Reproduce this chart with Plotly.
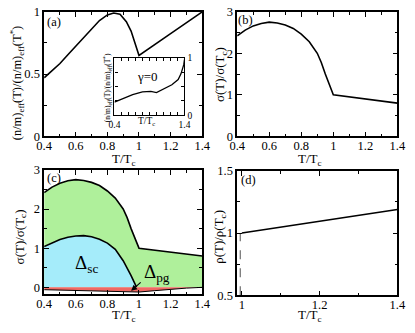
import plotly.graph_objects as go

W, H = 415, 333

# (a) superfluid weight ratio
t_a = [0.4, 0.45, 0.5, 0.55, 0.6, 0.65, 0.7, 0.75, 0.8, 0.84, 0.88, 0.92, 0.95, 0.98, 1.0, 1.2, 1.4]
ns_a = [0.47, 0.525, 0.585, 0.655, 0.725, 0.795, 0.865, 0.93, 0.975, 0.99, 0.98, 0.92, 0.845, 0.72, 0.65, 0.825, 1.0]

# (a) inset, gamma = 0
t_in = [0.4, 0.52, 0.66, 0.8, 0.92, 1.0, 1.12, 1.22, 1.31, 1.35, 1.39, 1.4]
ns_in = [0.23, 0.29, 0.36, 0.405, 0.415, 0.395, 0.47, 0.53, 0.62, 0.72, 0.88, 0.97]

# (b)/(c) total conductivity
t_s = [0.4, 0.45, 0.5, 0.55, 0.6, 0.65, 0.7, 0.75, 0.8, 0.85, 0.9, 0.925, 0.95, 0.975, 1.0, 1.4]
sig = [2.42, 2.56, 2.66, 2.72, 2.75, 2.73, 2.68, 2.6, 2.46, 2.28, 2.0, 1.78, 1.5, 1.23, 1.0, 0.8]

# (c) superconducting part
t_sc = [0.4, 0.45, 0.5, 0.55, 0.6, 0.65, 0.7, 0.75, 0.8, 0.85, 0.9, 0.95, 0.985]
sig_sc = [1.04, 1.14, 1.22, 1.28, 1.31, 1.32, 1.29, 1.23, 1.13, 0.97, 0.68, 0.3, 0.0]

# (c) pseudogap part
t_pg = [0.4, 0.5, 0.6, 0.7, 0.8, 0.9, 0.95, 1.0, 1.1, 1.2, 1.3, 1.4]
sig_pg = [-0.06, -0.07, -0.08, -0.095, -0.11, -0.125, -0.13, -0.12, -0.085, -0.05, -0.02, 0.0]

# (d) resistivity
t_r = [1.0, 1.4]
rho = [1.0, 1.19]
t_dash = [0.996, 0.996]
rho_dash = [0.5, 1.0]

FONT = "Liberation Serif, Times New Roman, serif"
LC = "black"


def px(x):
    return x / W


def py(y):
    return 1 - y / H


fig = go.Figure()

fig.add_trace(go.Scatter(x=t_a, y=ns_a, mode="lines", line=dict(color=LC, width=1.6), xaxis="x", yaxis="y"))
fig.add_trace(go.Scatter(x=t_in, y=ns_in, mode="lines", line=dict(color=LC, width=1.3), xaxis="x5", yaxis="y5"))
fig.add_trace(go.Scatter(x=t_s, y=sig, mode="lines", line=dict(color=LC, width=1.6), xaxis="x2", yaxis="y2"))

fig.add_trace(go.Scatter(x=t_s, y=sig, mode="lines", fill="tozeroy", fillcolor="rgb(175,240,155)",
                         line=dict(color=LC, width=1.6), xaxis="x3", yaxis="y3"))
fig.add_trace(go.Scatter(x=t_sc, y=sig_sc, mode="lines", fill="tozeroy", fillcolor="rgb(165,236,250)",
                         line=dict(color=LC, width=1.6), xaxis="x3", yaxis="y3"))
fig.add_trace(go.Scatter(x=t_pg, y=sig_pg, mode="lines", fill="tozeroy", fillcolor="rgb(240,105,100)",
                         line=dict(color=LC, width=1.0), xaxis="x3", yaxis="y3"))

fig.add_trace(go.Scatter(x=t_r, y=rho, mode="lines", line=dict(color=LC, width=1.6), xaxis="x4", yaxis="y4"))
fig.add_trace(go.Scatter(x=t_dash, y=rho_dash, mode="lines", line=dict(color="gray", width=1.4, dash="dash"),
                         xaxis="x4", yaxis="y4"))


def ax(domain, rng, tickvals, ticktext, minor, anchor, size=12.5, **kw):
    d = dict(domain=domain, range=rng, anchor=anchor, tickvals=tickvals, ticktext=ticktext,
             ticks="inside", ticklen=5, tickwidth=1, tickcolor=LC, mirror="allticks",
             showline=True, linecolor=LC, linewidth=1.5, showgrid=False, zeroline=False,
             tickfont=dict(family=FONT, size=size, color=LC),
             minor=dict(dtick=minor, ticks="inside", ticklen=3, tickcolor=LC, showgrid=False))
    d.update(kw)
    return d


xa_dom = [px(37.7), px(202.5)]
xb_dom = [px(239), px(406)]
top_dom = [py(135), py(5)]
bot_dom = [py(300), py(170)]

xt = [0.4, 0.6, 0.8, 1.0, 1.2, 1.4]
xl = ["0.4", "0.6", "0.8", "1", "1.2", "1.4"]
SO = -3

fig.update_layout(
    width=W, height=H, margin=dict(l=0, r=0, t=0, b=0),
    paper_bgcolor="white", plot_bgcolor="white", showlegend=False,
    font=dict(family=FONT, size=12, color=LC),
    xaxis=ax(xa_dom, [0.4, 1.4], xt, xl, 0.1, "y", ticklabelstandoff=SO),
    yaxis=ax(top_dom, [0, 1], [0, 0.5, 1], ["0", "0.5", "1"], 0.25, "x"),
    xaxis2=ax(xb_dom, [0.4, 1.4], xt, xl, 0.1, "y2", ticklabelstandoff=SO),
    yaxis2=ax([py(135), py(5)], [0, 3], [0, 1, 2, 3], ["0", "1", "2", "3"], 0.5, "x2"),
    xaxis3=ax(xa_dom, [0.4, 1.4], xt, xl, 0.1, "y3", ticklabelstandoff=SO),
    yaxis3=ax(bot_dom, [-0.18, 3], [0, 1, 2, 3], ["0", "1", "2", "3"], 0.5, "x3"),
    xaxis4=ax([px(239), px(406)], [0.988, 1.4], [1.0, 1.2, 1.4], ["1", "1.2", "1.4"], 0.1, "y4",
              ticklabelstandoff=SO),
    yaxis4=ax([py(301), py(171)], [0.5, 1.5], [0.5, 1, 1.5], ["0.5", "1", "1.5"], 0.25, "x4"),
    xaxis5=ax([px(111), px(184)], [0.4, 1.4], [0.4, 1.4], ["0.4", "1.4"], 0.1, "y5", size=9.5,
              ticklen=3, linewidth=1.3),
    yaxis5=ax([py(113), py(53)], [0, 1], [0, 1], ["0", "1"], 0.25, "x5", size=9.5, side="right",
              ticklen=3, linewidth=1.3),
)

ann = []


def text(x, y, s, size=12, angle=0, **kw):
    d = dict(x=px(x), y=py(y), xref="paper", yref="paper", text=s, showarrow=False,
             xanchor="center", yanchor="middle",
             textangle=angle, font=dict(family=FONT, size=size, color=LC))
    d.update(kw)
    ann.append(d)


TT = "T/T<sub>c</sub>"
text(121, 159, TT, 13)
text(315, 159, TT, 13)
text(121, 322, TT, 13)
text(315, 322, TT, 13)
text(144, 120, TT, 9.5)

text(9, 80, "(n/m)<sub>eff</sub>(T)/(n/m)<sub>eff</sub>(T<sup>*</sup>)", 12.5, -90)
text(104, 84, "(n/m)<sub>eff</sub>(T)/(n/m)<sub>eff</sub>(T<sup>*</sup>)", 7.5, -90)
text(221, 70, "σ(T)/σ(T<sub>c</sub>)", 13, -90)
text(13, 240, "σ(T)/σ(T<sub>c</sub>)", 13, -90)
text(221, 240, "ρ(T)/ρ(T<sub>c</sub>)", 13, -90)

text(48, 16, "(a)", 12.5)
text(248, 14, "(b)", 12.5)
text(48, 179, "(c)", 12.5)
text(251, 181, "(d)", 12.5)
text(145, 73, "γ=0", 13)

text(82, 268, "Δ<sub>sc</sub>", 19)
text(155, 278, "Δ<sub>pg</sub>", 19)
ann.append(dict(x=0.95, y=-0.09, xref="x3", yref="y3", ax=1.02, ay=0.16, axref="x3", ayref="y3",
                showarrow=True, arrowhead=2, arrowsize=1, arrowwidth=1.2, arrowcolor=LC, text=""))

fig.update_layout(annotations=ann)
fig.write_html("out.html", config={"displayModeBar": False},
               post_script="document.body.style.margin='0';")
